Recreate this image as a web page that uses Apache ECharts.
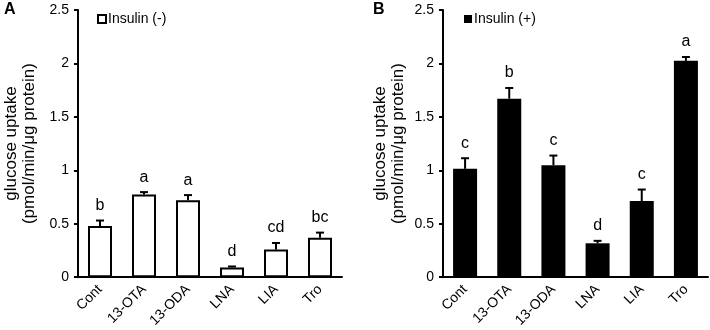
<!DOCTYPE html>
<html>
<head>
<meta charset="utf-8">
<script src="https://cdn.jsdelivr.net/npm/echarts@6/dist/echarts.min.js"></script>
<style>html,body{margin:0;padding:0;background:#fff}#c{width:710px;height:330px}</style>
</head>
<body>
<div id="c"></div>
<script>
const categories = ['Cont', '13-OTA', '13-ODA', 'LNA', 'LIA', 'Tro'];
const insulinMinus = [0.478, 0.774, 0.72, 0.09, 0.26, 0.37];
const insulinMinusErr = [0.052, 0.022, 0.048, 0.01, 0.06, 0.047];
const insulinMinusLetters = ['b', 'a', 'a', 'd', 'cd', 'bc'];
const insulinPlus = [1.014, 1.67, 1.048, 0.317, 0.712, 2.024];
const insulinPlusErr = [0.099, 0.10, 0.09, 0.023, 0.108, 0.036];
const insulinPlusLetters = ['c', 'b', 'c', 'd', 'c', 'a'];
const yTicks = [0, 0.5, 1, 1.5, 2, 2.5];

const FONT = 'Liberation Sans, Arial, sans-serif';
const chart = echarts.init(document.getElementById('c'), null, {renderer: 'canvas'});

function errData(vals, errs) {
  return vals.map((v, i) => [i, v, errs[i]]);
}
function makeErrRender(letters) {
  return function (params, api) {
    const idx = api.value(0);
    const v = api.value(1);
    const e = api.value(2);
    const letter = letters[params.dataIndex];
    const base = api.coord([idx, v]);
    const top = api.coord([idx, v + e]);
    return {
      type: 'group',
      children: [
        {type: 'line', shape: {x1: base[0], y1: base[1], x2: top[0], y2: top[1]}, style: {stroke: '#000', lineWidth: 2}},
        {type: 'line', shape: {x1: top[0] - 4, y1: top[1], x2: top[0] + 4, y2: top[1]}, style: {stroke: '#000', lineWidth: 2}},
        {type: 'text', x: top[0], y: top[1] - 7, style: {text: letter, fill: '#000', font: '16px ' + FONT, textAlign: 'center', textVerticalAlign: 'bottom'}}
      ]
    };
  };
}

function yAxisCfg(gridIndex, gap) {
  return {
    type: 'value', gridIndex: gridIndex, min: 0, max: 2.5, interval: 0.5,
    name: 'glucose uptake\n(pmol/min/μg protein)',
    nameLocation: 'middle', nameGap: gap, nameRotate: 90,
    nameTextStyle: {fontFamily: FONT, fontSize: 17, color: '#000', lineHeight: 18},
    axisLine: {show: true, lineStyle: {color: '#000', width: 2}},
    axisTick: {show: true, length: 4, lineStyle: {color: '#000', width: 2}},
    axisLabel: {fontFamily: FONT, fontSize: 14, color: '#000', margin: 9,
      formatter: v => yTicks.includes(v) ? String(v) : ''},
    splitLine: {show: false}
  };
}
function xAxisCfg(gridIndex) {
  return {
    type: 'category', gridIndex: gridIndex, data: categories,
    axisLine: {show: true, lineStyle: {color: '#000', width: 2}},
    axisTick: {show: false},
    axisLabel: {fontFamily: FONT, fontSize: 14, color: '#000', rotate: 45, margin: 10, interval: 0}
  };
}

chart.setOption({
  animation: false,
  backgroundColor: '#fff',
  grid: [
    {left: 78, top: 10, width: 264, height: 268},
    {left: 443, top: 10, width: 265, height: 268}
  ],
  xAxis: [xAxisCfg(0), xAxisCfg(1)],
  yAxis: [yAxisCfg(0, 40), yAxisCfg(1, 36)],
  legend: [
    {data: ['Insulin (-)'], left: 92, top: 7, itemWidth: 8, itemHeight: 8, itemGap: 4, icon: 'rect',
     textStyle: {fontFamily: FONT, fontSize: 14, color: '#000', padding: [0, 0, 0, -3]},
     itemStyle: {color: '#fff', borderColor: '#000', borderWidth: 2}},
    {data: ['Insulin (+)'], left: 459, top: 7, itemWidth: 8, itemHeight: 8, itemGap: 4, icon: 'rect',
     textStyle: {fontFamily: FONT, fontSize: 14, color: '#000', padding: [0, 0, 0, -3]},
     itemStyle: {color: '#000'}}
  ],
  graphic: [
    {type: 'text', left: 4, top: 2, style: {text: 'A', font: 'bold 16px ' + FONT, fill: '#000'}},
    {type: 'text', left: 373, top: 2, style: {text: 'B', font: 'bold 16px ' + FONT, fill: '#000'}}
  ],
  series: [
    {name: 'Insulin (-)', type: 'bar', xAxisIndex: 0, yAxisIndex: 0, data: insulinMinus, barWidth: 24,
     itemStyle: {color: '#fff', borderColor: '#000', borderWidth: 2}},
    {type: 'custom', xAxisIndex: 0, yAxisIndex: 0, data: errData(insulinMinus, insulinMinusErr),
     renderItem: makeErrRender(insulinMinusLetters), z: 5},
    {name: 'Insulin (+)', type: 'bar', xAxisIndex: 1, yAxisIndex: 1, data: insulinPlus, barWidth: 24,
     itemStyle: {color: '#000'}},
    {type: 'custom', xAxisIndex: 1, yAxisIndex: 1, data: errData(insulinPlus, insulinPlusErr),
     renderItem: makeErrRender(insulinPlusLetters), z: 5}
  ]
});
</script>
</body>
</html>
